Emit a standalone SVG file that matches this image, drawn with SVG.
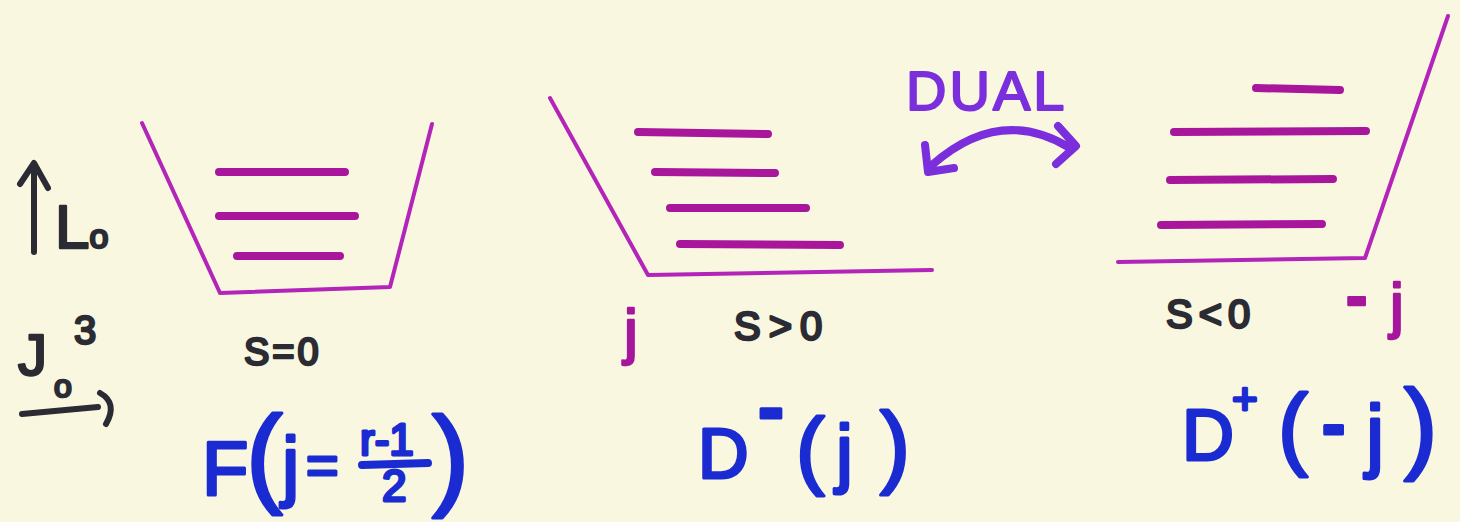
<svg xmlns="http://www.w3.org/2000/svg" width="1460" height="522" viewBox="0 0 1460 522">
<style>
.wall{fill:none;stroke:#b324b8;stroke-width:4;stroke-linecap:round;stroke-linejoin:round}
.lvl{fill:none;stroke:#a8169c;stroke-width:8;stroke-linecap:round}
.blk{font-family:"Liberation Sans",Arial,sans-serif;fill:#2b2b33;stroke:#2b2b33;stroke-width:2.5;stroke-linejoin:round}
.mag{font-family:"Liberation Sans",Arial,sans-serif;fill:#a6169c;stroke:#a6169c;stroke-width:2.5;stroke-linejoin:round}
.blu{font-family:"Liberation Sans",Arial,sans-serif;fill:#1b2bd2;stroke:#1b2bd2;stroke-width:3;stroke-linejoin:round}
.pur{font-family:"Liberation Sans",Arial,sans-serif;fill:#7b2fdc;stroke:#7b2fdc;stroke-width:2;stroke-linejoin:round}
.pen{fill:none;stroke-linecap:round;stroke-linejoin:round}
</style>
<rect width="1460" height="522" fill="#faf7e0"/>

<g id="axes">
  <path class="pen" stroke="#2b2b33" stroke-width="6" d="M34 252 L34 168 M20 184 L34 163 L48 188"/>
  <text class="blk" x="55" y="248" font-size="62">L<tspan font-size="34">o</tspan></text>
  <text class="blk" x="18" y="375" font-size="58">J</text>
  <text class="blk" x="74" y="344" font-size="40">3</text>
  <text class="blk" x="54" y="397" font-size="32">o</text>
  <path class="pen" stroke="#2b2b33" stroke-width="6" d="M22 414 L98 407 M100 393 Q118 403 106 424"/>
</g>

<g id="well-F">
  <path class="wall" d="M142 123 L220 293 L390 287 L432 124"/>
  <path class="lvl" d="M219 172 L345 172 M219 216 L355 216 M237 256 L340 256"/>
  <text class="blk" x="244" y="365" font-size="38" letter-spacing="3">S=0</text>
  <text class="blu" x="202" y="495" font-size="76">F</text>
  <text class="blu" x="246" y="492" font-size="110">(</text>
  <text class="blu" x="282" y="492" font-size="78">j</text>
  <text class="blu" x="306" y="484" font-size="56">=</text>
  <text class="blu" x="360" y="455" font-size="44">r-1</text>
  <path class="pen" stroke="#1b2bd2" stroke-width="8" d="M362 465 L428 463"/>
  <text class="blu" x="382" y="501" font-size="44">2</text>
  <text class="blu" x="432" y="495" font-size="112">)</text>
</g>

<g id="well-Dminus">
  <path class="wall" d="M550 98 L648 275 L932 270"/>
  <path class="lvl" d="M638 132 L768 134 M655 172 L775 173 M670 208 L806 208 M680 244 L840 245"/>
  <text class="mag" x="624" y="352" font-size="62">j</text>
  <text class="blk" x="734" y="340" font-size="40" letter-spacing="8">S&gt;0</text>
  <text class="blu" x="698" y="478" font-size="70">D</text>
  <text class="blu" x="758" y="434" font-size="78" font-weight="bold">-</text>
  <text class="blu" x="796" y="478" font-size="86">(</text>
  <text class="blu" x="836" y="478" font-size="76">j</text>
  <text class="blu" x="880" y="476" font-size="90">)</text>
</g>

<g id="dual">
  <text class="pur" x="906" y="110" font-size="56" letter-spacing="3">DUAL</text>
  <path class="pen" stroke="#7b2fdc" stroke-width="8" d="M932 165 Q1000 105 1070 148 M925 145 L928 172 L954 168 M1058 126 L1076 146 L1056 164"/>
</g>

<g id="well-Dplus">
  <path class="wall" d="M1118 262 L1365 258 L1448 16"/>
  <path class="lvl" d="M1256 88 L1340 90 M1174 132 L1366 131 M1170 180 L1333 179 M1161 225 L1322 224"/>
  <text class="blk" x="1166" y="328" font-size="40" letter-spacing="6">S&lt;0</text>
  <text class="mag" x="1346" y="318" font-size="64" font-weight="bold">-</text>
  <text class="mag" x="1390" y="326" font-size="62">j</text>
  <text class="blu" x="1182" y="460" font-size="72">D</text>
  <text class="blu" x="1232" y="414" font-size="44">+</text>
  <text class="blu" x="1278" y="458" font-size="90">(</text>
  <text class="blu" x="1322" y="448" font-size="70" font-weight="bold">-</text>
  <text class="blu" x="1366" y="462" font-size="82">j</text>
  <text class="blu" x="1404" y="460" font-size="100">)</text>
</g>
</svg>
